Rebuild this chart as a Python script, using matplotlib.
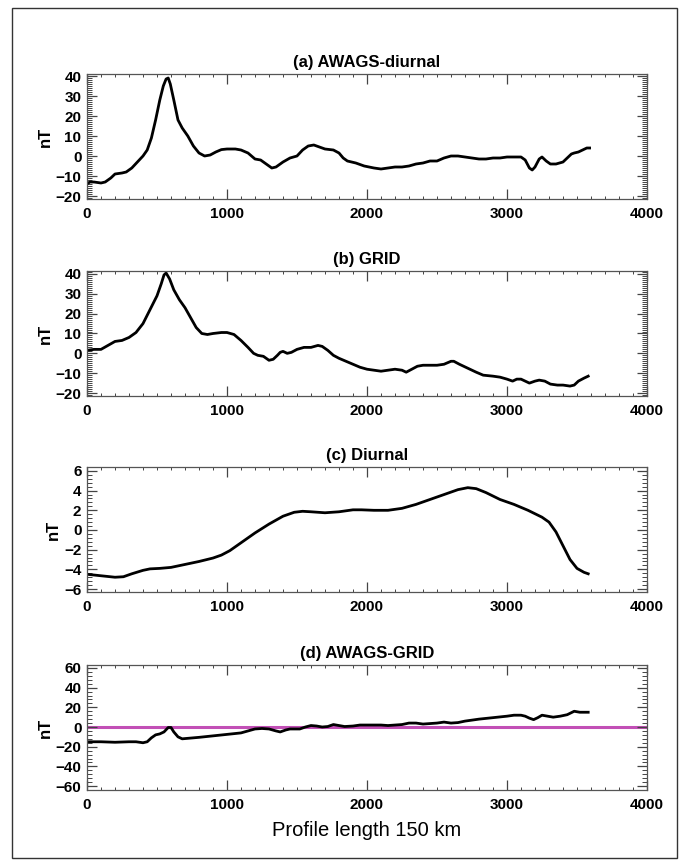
import numpy as np
import matplotlib.pyplot as plt
from matplotlib.patches import Rectangle
from matplotlib.ticker import MultipleLocator

# profile distance readings for each panel
x_a = [0, 20, 50, 100, 130, 170, 200, 250, 280, 320, 360, 400, 430, 460, 490, 520, 545, 565, 580,
       595, 620, 650, 680, 720, 760, 800, 840, 880, 920, 960, 1000, 1060, 1100, 1150, 1200, 1240,
       1280, 1320, 1350, 1400, 1450, 1500, 1540, 1580, 1620, 1660, 1700, 1760, 1800, 1830, 1860,
       1920, 1980, 2050, 2100, 2150, 2200, 2250, 2300, 2350, 2400, 2450, 2500, 2550, 2600, 2650,
       2700, 2750, 2800, 2850, 2900, 2950, 3000, 3050, 3100, 3130, 3160, 3180, 3200, 3230, 3250,
       3280, 3310, 3350, 3400, 3430, 3460, 3480, 3510, 3540, 3570, 3590]
awags_diurnal = [-14, -13, -13, -13.5, -13, -11, -9, -8.5, -8, -6, -3, 0, 3, 9, 18, 28, 35, 38.5, 39,
                 36, 28, 18, 14, 10, 5, 1.5, 0, 0.5, 2, 3.2, 3.5, 3.5, 3, 1.5, -1.5, -2,
                 -4, -6, -5.5, -3, -1, 0, 3, 5, 5.5, 4.5, 3.5, 3, 1.5, -1, -2.5,
                 -3.5, -5, -6, -6.5, -6, -5.5, -5.5, -5, -4, -3.5, -2.5, -2.5, -1, 0, 0,
                 -0.5, -1, -1.5, -1.5, -1, -1, -0.5, -0.5, -0.5, -2, -6, -7, -5.5, -1.5, -0.5,
                 -2.5, -4, -4, -3, -1, 1, 1.5, 2, 3, 4, 4]

x_b = [0, 50, 100, 150, 200, 250, 300, 350, 400, 450, 500, 530, 550, 565, 590, 620, 660, 700, 740,
       780, 820, 860, 900, 960, 1000, 1050, 1100, 1150, 1190, 1220, 1260, 1300, 1330, 1360, 1380,
       1400, 1430, 1460, 1500, 1550, 1600, 1650, 1680, 1720, 1760, 1800, 1850, 1900, 1950, 2000,
       2050, 2100, 2150, 2200, 2250, 2280, 2320, 2360, 2400, 2450, 2500, 2550, 2600, 2620, 2660,
       2720, 2780, 2830, 2900, 2950, 3000, 3040, 3070, 3100, 3130, 3160, 3200, 3230, 3270, 3310,
       3360, 3400, 3450, 3480, 3510, 3550, 3580]
grid = [1.5, 2, 2, 4, 6, 6.5, 8, 10.5, 15, 22, 29, 35, 39.5, 40.5, 37.5, 32, 27, 23, 18,
        13, 10, 9.5, 10, 10.5, 10.5, 9.5, 6.5, 3, 0, -1, -1.5, -3.5, -3, -1, 0.5,
        1, 0, 0.5, 2, 3, 3, 4, 3.5, 1.5, -1, -2.5, -4, -5.5, -7, -8,
        -8.5, -9, -8.5, -8, -8.5, -9.5, -8, -6.5, -6, -6, -6, -5.5, -4, -4, -5.5,
        -7.5, -9.5, -11, -11.5, -12, -13, -14, -13, -13, -14, -15, -14, -13.5, -14, -15.5,
        -16, -16, -16.5, -16, -14, -12.5, -11.5]

x_c = [0, 100, 200, 260, 320, 400, 450, 520, 600, 700, 800, 900, 960, 1020, 1100, 1200, 1300,
       1400, 1480, 1540, 1600, 1700, 1800, 1900, 1960, 2050, 2150, 2250, 2350, 2450, 2550, 2650,
       2720, 2780, 2850, 2950, 3050, 3150, 3250, 3300, 3350, 3400, 3450, 3500, 3550, 3580]
diurnal = [-4.5, -4.65, -4.8, -4.75, -4.45, -4.1, -3.95, -3.9, -3.8, -3.5, -3.2, -2.85, -2.55, -2.1,
           -1.3, -0.3, 0.6, 1.4, 1.8, 1.9, 1.85, 1.75, 1.85, 2.05, 2.05, 2.0, 2.0, 2.2, 2.6, 3.1,
           3.6, 4.1, 4.3, 4.2, 3.8, 3.1, 2.6, 2.0, 1.3, 0.8, -0.2, -1.6, -3.0, -3.9, -4.3, -4.45]

x_d = [0, 100, 200, 300, 350, 400, 430, 460, 490, 520, 550, 580, 600, 620, 650, 680, 720, 800, 900,
       1000, 1100, 1150, 1200, 1250, 1300, 1350, 1380, 1420, 1450, 1520, 1560, 1600, 1640, 1680,
       1720, 1760, 1800, 1840, 1900, 1950, 2050, 2100, 2150, 2200, 2250, 2300, 2350, 2400, 2450,
       2500, 2550, 2600, 2650, 2700, 2800, 2900, 3000, 3050, 3100, 3130, 3160, 3190, 3220, 3250,
       3290, 3330, 3380, 3430, 3480, 3520, 3580]
awags_grid = [-15, -15, -15.5, -15, -15, -16, -15, -11, -8, -7, -5, -0.5, -0.5, -5, -10, -12, -11.5,
              -10.5, -9, -7.5, -6, -4, -2, -1.5, -2, -4, -5, -3, -2, -2, 0, 1.5, 1, 0,
              0.5, 2.5, 1.5, 0.5, 1, 2, 2, 2, 1.5, 2, 2.5, 4, 4, 3, 3.5,
              4, 5, 4, 4.5, 6, 8, 9.5, 11, 12, 12, 11, 9, 7.5, 9.5, 12,
              11, 10, 11, 12.5, 16, 15, 15]

titles = ['(a) AWAGS-diurnal', '(b) GRID', '(c) Diurnal', '(d) AWAGS-GRID']
ylims = [(-21.5, 41), (-21.5, 41.5), (-6.3, 6.4), (-64, 63)]
ymajor = [10, 10, 2, 20]
yminor = [1, 1, 0.4, 4]

plt.rcParams['font.family'] = ['Liberation Sans', 'DejaVu Sans']

fig = plt.figure(figsize=(6.9, 8.64), dpi=100)
fig.patches.append(Rectangle((12 / 690, 1 - 858 / 864), 665 / 690, 850 / 864,
                             transform=fig.transFigure, fill=False,
                             edgecolor='#333333', linewidth=1.0))

bottoms = [199, 396, 592, 790]
series = [(x_a, awags_diurnal), (x_b, grid), (x_c, diurnal), (x_d, awags_grid)]

for i, (xs, ys) in enumerate(series):
    ax = fig.add_axes([87 / 690, 1 - bottoms[i] / 864, 560 / 690, 125 / 864])
    if i == 3:
        ax.axhline(0, color='#c24fb6', linewidth=2.2, zorder=1)
    ax.plot(xs, ys, color='black', linewidth=2.0, zorder=2)
    ax.set_xlim(0, 4000)
    ax.set_ylim(*ylims[i])
    ax.xaxis.set_major_locator(MultipleLocator(1000))
    ax.xaxis.set_minor_locator(MultipleLocator(100))
    ax.yaxis.set_major_locator(MultipleLocator(ymajor[i]))
    ax.yaxis.set_minor_locator(MultipleLocator(yminor[i]))
    ax.tick_params(which='both', direction='in', top=True, right=True, color='#444444')
    ax.tick_params(which='major', length=7.5, width=0.9, labelsize=11, pad=4)
    ax.tick_params(which='minor', length=3.5, width=0.7)
    ax.tick_params(axis='x', which='minor', length=2.5)
    ax.tick_params(axis='x', which='major', pad=6)
    for lab in ax.get_xticklabels() + ax.get_yticklabels():
        lab.set_fontweight('bold')
    for sp in ax.spines.values():
        sp.set_linewidth(0.9)
        sp.set_color('#555555')
    ax.set_title(titles[i], fontsize=12, fontweight='bold', pad=5)
    ax.set_ylabel('nT', fontsize=12, fontweight='bold', labelpad=2)

ax.set_xlabel('Profile length 150 km', fontsize=14.5, labelpad=6)

fig.savefig('out.png', dpi=100)
